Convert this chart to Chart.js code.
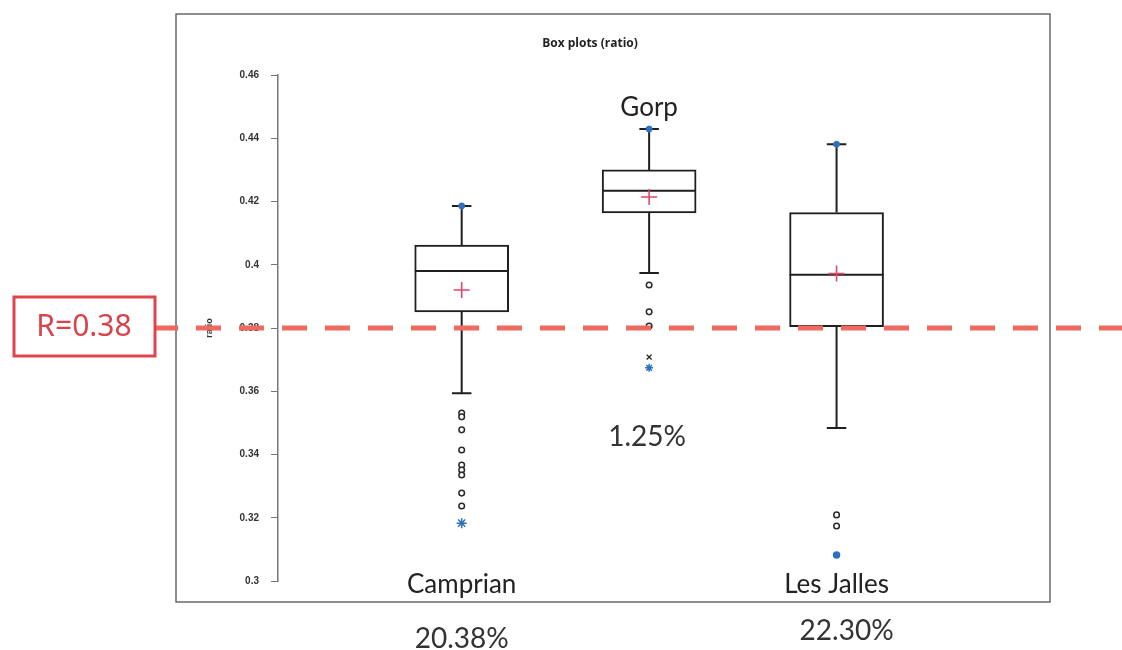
<!DOCTYPE html>
<html>
<head>
<meta charset="utf-8">
<script src="https://cdn.jsdelivr.net/npm/chart.js@4.4.1/dist/chart.umd.min.js"></script>
<style>
  html, body { margin: 0; padding: 0; background: #ffffff; }
  #wrap { width: 1122px; height: 650px; position: relative; }
</style>
</head>
<body>
<div id="wrap"><canvas id="box" width="1122" height="650"></canvas></div>
<script>
// Sites and their position along the horizontal axis
const categories = ['Camprian', 'Gorp', 'Les Jalles'];
const positions = [1, 2, 3];

// Box plot statistics of the ratio for each site
const q1 = [0.3851, 0.4164, 0.3804];
const median = [0.3980, 0.4234, 0.3968];
const q3 = [0.4062, 0.4300, 0.4165];
const mean = [0.3920, 0.4214, 0.3972];
const whiskerLow = [0.3594, 0.3974, 0.3484];
const whiskerHigh = [0.4186, 0.4429, 0.4381];

// Individual points outside the whiskers
const outliers = [
  [0.3531, 0.3519, 0.3478, 0.3414, 0.3367, 0.3351, 0.3335, 0.3278, 0.3237],
  [0.3936, 0.3851, 0.3806],
  [0.3209, 0.3174]
];
const farOutliers = [[], [0.3708], []];

// Minimum and maximum observations (blue markers)
const minima = [0.3183, 0.3674, 0.3082];
const maxima = [0.4186, 0.4429, 0.4381];
const minStyles = ['star', 'star', 'circle'];

// Share below the reference ratio, per site
const shareLabels = ['20.38%', '1.25%', '22.30%'];

// Reference ratio
const refValue = 0.38;
const refLabel = 'R=0.38';

// Vertical axis ticks
const yTicks = [0.3, 0.32, 0.34, 0.36, 0.38, 0.4, 0.42, 0.44, 0.46];
const yTickLabels = ['0.3', '0.32', '0.34', '0.36', '0.38', '0.4', '0.42', '0.44', '0.46'];

const BOX_HALF = 0.25;   // half box width in axis units
const CAP_HALF = 0.052;  // half whisker-cap width in axis units

// Whisker stems and caps, segments separated by gaps
const whiskerPts = [];
positions.forEach((x, i) => {
  whiskerPts.push({x: x, y: q3[i]}, {x: x, y: whiskerHigh[i]}, {x: x, y: null});
  whiskerPts.push({x: x - CAP_HALF, y: whiskerHigh[i]}, {x: x + CAP_HALF, y: whiskerHigh[i]}, {x: x, y: null});
  whiskerPts.push({x: x, y: q1[i]}, {x: x, y: whiskerLow[i]}, {x: x, y: null});
  whiskerPts.push({x: x - CAP_HALF, y: whiskerLow[i]}, {x: x + CAP_HALF, y: whiskerLow[i]}, {x: x, y: null});
});

// Median lines across each box
const medianPts = [];
positions.forEach((x, i) => {
  medianPts.push({x: x - BOX_HALF, y: median[i]}, {x: x + BOX_HALF, y: median[i]}, {x: x, y: null});
});

const outlierPts = [];
positions.forEach((x, i) => outliers[i].forEach(v => outlierPts.push({x: x, y: v})));
const farPts = [];
positions.forEach((x, i) => farOutliers[i].forEach(v => farPts.push({x: x, y: v})));

const INK = '#1f1f1f';
const BLUE = '#2f6fc0';
const MEAN_RED = '#e2466a';
const REF_RED = '#ee6a5e';

// Frame, reference line, and text annotations
const decorations = {
  id: 'decorations',
  beforeDraw(chart) {
    const ctx = chart.ctx;
    ctx.save();
    ctx.fillStyle = '#ffffff';
    ctx.fillRect(0, 0, chart.width, chart.height);
    ctx.strokeStyle = '#6a6a6a';
    ctx.lineWidth = 1.5;
    ctx.strokeRect(176, 14, 874, 588);
    ctx.fillStyle = '#222';
    ctx.font = 'bold 12px "Open Sans"';
    ctx.textAlign = 'center';
    ctx.textBaseline = 'middle';
    ctx.fillText('Box plots (ratio)', 590, 44);
    ctx.restore();
  },
  afterDraw(chart) {
    const ctx = chart.ctx;
    const xs = chart.scales.x, ys = chart.scales.y;
    const area = chart.chartArea;
    ctx.save();

    // site names
    ctx.fillStyle = '#222';
    ctx.font = '26px Lato';
    ctx.textAlign = 'center';
    ctx.textBaseline = 'middle';
    ctx.fillText(categories[1], xs.getPixelForValue(positions[1]), ys.getPixelForValue(whiskerHigh[1]) - 21);
    ctx.fillText(categories[0], xs.getPixelForValue(positions[0]), area.bottom + 4);
    ctx.fillText(categories[2], xs.getPixelForValue(positions[2]), area.bottom + 4);

    // shares below the reference ratio
    ctx.fillStyle = '#333';
    ctx.font = '28px Lato';
    ctx.fillText(shareLabels[0], xs.getPixelForValue(positions[0]), 639);
    ctx.fillText(shareLabels[1], xs.getPixelForValue(positions[1]) - 2, 437);
    ctx.fillText(shareLabels[2], xs.getPixelForValue(positions[2]) + 10, 631);

    // reference ratio line
    const yRef = ys.getPixelForValue(refValue);
    ctx.strokeStyle = REF_RED;
    ctx.lineWidth = 5;
    ctx.beginPath();
    ctx.moveTo(155, yRef);
    ctx.lineTo(178, yRef);
    ctx.stroke();
    ctx.setLineDash([25, 18]);
    ctx.beginPath();
    ctx.moveTo(196, yRef);
    ctx.lineTo(chart.width, yRef);
    ctx.stroke();
    ctx.setLineDash([]);

    // reference label box
    ctx.strokeStyle = '#e2444e';
    ctx.lineWidth = 3;
    ctx.fillStyle = '#ffffff';
    ctx.fillRect(14, yRef - 31, 141, 59);
    ctx.strokeRect(14, yRef - 31, 141, 59);
    ctx.fillStyle = '#d8434c';
    ctx.font = '30px "Noto Sans"';
    ctx.fillText(refLabel, 84, yRef - 1);
    ctx.restore();
  }
};

new Chart(document.getElementById('box'), {
  data: {
    datasets: [
      {
        type: 'scatter', order: 0,
        data: positions.map((x, i) => ({x: x, y: minima[i]})),
        pointStyle: minStyles, pointRadius: [5, 4, 3],
        backgroundColor: BLUE, borderColor: BLUE, borderWidth: 1.5
      },
      {
        type: 'scatter', order: 0,
        data: positions.map((x, i) => ({x: x, y: maxima[i]})),
        pointStyle: 'circle', pointRadius: 3,
        backgroundColor: BLUE, borderColor: BLUE, borderWidth: 1
      },
      {
        type: 'scatter', order: 1,
        data: farPts,
        pointStyle: 'crossRot', pointRadius: 3.5,
        borderColor: INK, borderWidth: 1.3
      },
      {
        type: 'scatter', order: 1,
        data: outlierPts,
        pointStyle: 'circle', pointRadius: 2.8,
        backgroundColor: '#ffffff', borderColor: '#2a2a2a', borderWidth: 1.5
      },
      {
        type: 'scatter', order: 2,
        data: positions.map((x, i) => ({x: x, y: mean[i]})),
        pointStyle: 'cross', pointRadius: 8,
        borderColor: MEAN_RED, borderWidth: 1.6
      },
      {
        type: 'line', order: 3,
        data: medianPts,
        borderColor: INK, borderWidth: 2, pointRadius: 0, spanGaps: false, fill: false
      },
      {
        type: 'line', order: 4,
        data: whiskerPts,
        borderColor: INK, borderWidth: 2, pointRadius: 0, spanGaps: false, fill: false
      },
      {
        type: 'bar', order: 5,
        data: positions.map((x, i) => ({x: x, y: [q1[i], q3[i]]})),
        backgroundColor: '#ffffff', borderColor: INK, borderWidth: 2,
        borderSkipped: false, barThickness: 94
      }
    ]
  },
  options: {
    responsive: false,
    animation: false,
    devicePixelRatio: 1,
    layout: { padding: { left: 200, top: 75, right: 98, bottom: 69 } },
    plugins: { legend: { display: false }, tooltip: { enabled: false }, title: { display: false } },
    scales: {
      x: { type: 'linear', min: 0.02, max: 4.0, offset: false, display: false },
      y: {
        type: 'linear', min: 0.3, max: 0.46,
        afterBuildTicks: s => { s.ticks = yTicks.map(v => ({value: v})); },
        afterFit: s => { s.width = 78; },
        ticks: {
          callback: (v, i) => yTickLabels[i],
          font: { family: '"Liberation Sans"', size: 10, weight: 'bold' },
          color: '#333', padding: 12
        },
        grid: { display: true, drawOnChartArea: false, drawTicks: true, tickLength: 7, color: '#777' },
        border: { display: true, color: '#777', width: 1.5 },
        title: {
          display: true, text: 'ratio', color: '#333',
          font: { family: '"Liberation Sans"', size: 9, weight: 'bold' },
          padding: { top: 4, bottom: 0 }
        }
      }
    }
  },
  plugins: [decorations]
});
</script>
</body>
</html>
